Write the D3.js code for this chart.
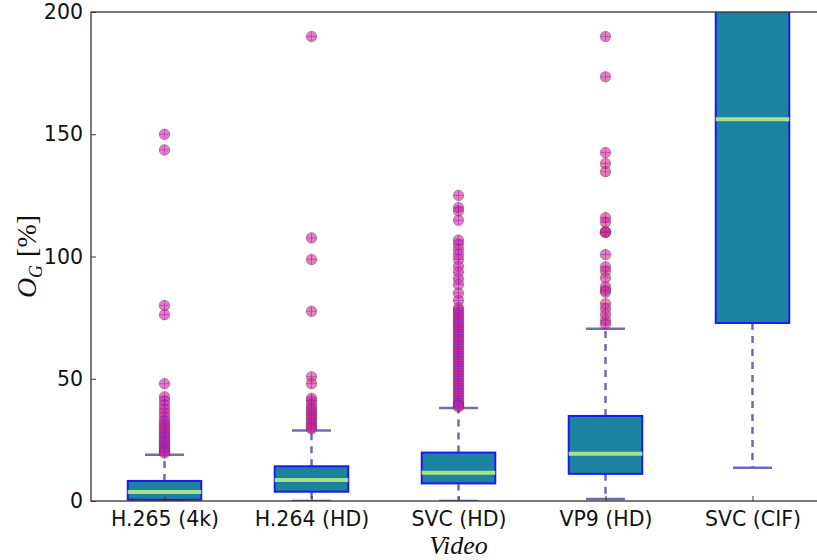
<!DOCTYPE html>
<html>
<head>
<meta charset="utf-8">
<script src="https://cdn.jsdelivr.net/npm/d3@7"></script>
<style>
  body { margin: 0; background: #fff; }
  svg { display: block; }
</style>
</head>
<body>
<div id="chart"></div>
<script>
// Data
const categories = ["H.265 (4k)", "H.264 (HD)", "SVC (HD)", "VP9 (HD)", "SVC (CIF)"];
const q1Values = [0.5, 3.8, 7.2, 11.1, 72.8];
const medianValues = [3.7, 8.6, 11.6, 19.3, 156.1];
const q3Values = [8.2, 14.2, 19.8, 34.8, 260];
const whiskerLow = [0, 0, 0, 0.8, 13.6];
const whiskerHigh = [18.9, 28.8, 38, 70.5, 420];
const yTicks = [0, 50, 100, 150, 200];

const outliersH265 = [150, 143.6, 80, 76.2, 48, 42.6, 41, 39.3, 37.5, 36, 34.5, 33, 32, 31, 30, 29, 28,
  27, 26.2, 25.5, 24.5, 23.8, 23, 22.2, 21.5, 20.8, 20.2, 19.6];
const outliersH264 = [190, 107.6, 98.8, 77.6, 50.8, 48, 42, 41, 39.5, 38, 37, 36, 35, 34, 33, 32, 31, 30, 29.5];
const outliersSvcHd = [125, 120, 118.6, 114.8, 106.7, 105, 102.9, 100.8, 98.8, 96, 93.6, 90.9, 88.5, 85, 82,
  79, 78, 77, 76, 75, 74, 73, 72, 71, 70, 69, 68, 67, 66, 65, 64, 63, 62, 61, 60, 59, 58, 57, 56, 55,
  54, 53, 52, 51, 50, 49, 48, 47, 46, 45, 44, 43, 42, 41, 40, 39.5, 39, 38.5];
const outliersVp9 = [190, 173.5, 142.5, 138, 134.7, 115.9, 114, 110.1, 110, 109.8, 100.8, 95.8, 94, 91.3,
  87.6, 86.2, 85.4, 80.7, 78.6, 76.2, 73.8, 72.4];
const outliersSvcCif = [];
const outlierLists = [outliersH265, outliersH264, outliersSvcHd, outliersVp9, outliersSvcCif];

const width = 817, height = 560;
const margin = { top: 12, left: 91, bottom: 59 };
const plotRight = 826; // right spine falls just outside the picture

const svg = d3.select('#chart').append('svg')
  .attr('width', width)
  .attr('height', height);

const x = d3.scaleLinear()
  .domain([0.5, categories.length + 0.5])
  .range([margin.left, plotRight]);

const y = d3.scaleLinear()
  .domain([0, 200])
  .range([height - margin.bottom, margin.top]);

const boxW = (x(1) - x(0)) * 0.5;
const capW = boxW * 0.53;

svg.append('clipPath').attr('id', 'plotClip')
  .append('rect')
  .attr('x', margin.left).attr('y', margin.top)
  .attr('width', plotRight - margin.left)
  .attr('height', y(0) - y(200));

const plot = svg.append('g').attr('clip-path', 'url(#plotClip)');

const rows = categories.map((c, i) => ({
  pos: i + 1,
  q1: q1Values[i], med: medianValues[i], q3: q3Values[i],
  lo: whiskerLow[i], hi: whiskerHigh[i], out: outlierLists[i]
}));

const whiskerColor = '#6c6cbc';

// whiskers (dashed)
plot.selectAll('.whiskerUp').data(rows).join('line')
  .attr('x1', d => x(d.pos)).attr('x2', d => x(d.pos))
  .attr('y1', d => y(d.q3)).attr('y2', d => y(d.hi))
  .attr('stroke', whiskerColor).attr('stroke-width', 2.5)
  .attr('stroke-dasharray', '7,6');
plot.selectAll('.whiskerDown').data(rows).join('line')
  .attr('x1', d => x(d.pos)).attr('x2', d => x(d.pos))
  .attr('y1', d => y(d.q1)).attr('y2', d => y(d.lo))
  .attr('stroke', whiskerColor).attr('stroke-width', 2.5)
  .attr('stroke-dasharray', '7,6');

// caps
['hi', 'lo'].forEach(k => {
  plot.append('g').selectAll('line').data(rows).join('line')
    .attr('x1', d => x(d.pos) - capW / 2).attr('x2', d => x(d.pos) + capW / 2)
    .attr('y1', d => y(d[k])).attr('y2', d => y(d[k]))
    .attr('stroke', whiskerColor).attr('stroke-width', 2.5);
});

// boxes
plot.selectAll('.box').data(rows).join('rect')
  .attr('x', d => x(d.pos) - boxW / 2)
  .attr('y', d => y(d.q3))
  .attr('width', boxW)
  .attr('height', d => y(d.q1) - y(d.q3))
  .attr('fill', '#1d829e')
  .attr('stroke', '#1a1af5')
  .attr('stroke-width', 2);

// medians
plot.selectAll('.median').data(rows).join('line')
  .attr('x1', d => x(d.pos) - boxW / 2).attr('x2', d => x(d.pos) + boxW / 2)
  .attr('y1', d => y(d.med)).attr('y2', d => y(d.med))
  .attr('stroke', '#a9e08e').attr('stroke-width', 4);

// outliers
const pts = rows.flatMap(d => d.out.map(v => ({ pos: d.pos, v })));
const fl = plot.append('g');
fl.selectAll('circle').data(pts).join('circle')
  .attr('cx', d => x(d.pos)).attr('cy', d => y(d.v))
  .attr('r', 5.3)
  .attr('fill', '#e0238e').attr('fill-opacity', 0.6)
  .attr('stroke', '#3a3a3a').attr('stroke-opacity', 0.45).attr('stroke-width', 0.8);
fl.selectAll('path').data(pts).join('path')
  .attr('d', d => {
    const cx = x(d.pos), cy = y(d.v);
    return `M${cx - 5},${cy}H${cx + 5}M${cx},${cy - 5}V${cy + 5}`;
  })
  .attr('stroke', '#8a20d0').attr('stroke-opacity', 0.5).attr('stroke-width', 1);

// axes
const yAxis = d3.axisLeft(y).tickValues(yTicks).tickSizeInner(-5).tickSizeOuter(0).tickPadding(8);
const yG = svg.append('g').attr('transform', `translate(${margin.left},0)`).call(yAxis);
yG.select('.domain').remove();
yG.selectAll('text').attr('font-family', 'DejaVu Sans').attr('font-size', 20.5).attr('fill', '#111');
yG.selectAll('line').attr('stroke', '#333');

const xAxis = d3.axisBottom(x).tickValues(categories.map((c, i) => i + 1))
  .tickFormat((d, i) => categories[i]).tickSizeInner(-5).tickSizeOuter(0).tickPadding(10);
const xG = svg.append('g').attr('transform', `translate(0,${y(0)})`).call(xAxis);
xG.select('.domain').remove();
xG.selectAll('text').attr('font-family', 'DejaVu Sans').attr('font-size', 20.5).attr('fill', '#111');
xG.selectAll('line').attr('stroke', '#333');

// frame
svg.append('rect')
  .attr('x', margin.left).attr('y', margin.top)
  .attr('width', plotRight - margin.left)
  .attr('height', y(0) - y(200))
  .attr('fill', 'none').attr('stroke', '#333').attr('stroke-width', 1.3);

// labels
svg.append('text')
  .attr('x', (margin.left + plotRight) / 2).attr('y', 554)
  .attr('text-anchor', 'middle')
  .attr('font-family', 'Liberation Serif').attr('font-style', 'italic').attr('font-size', 26)
  .attr('fill', '#111')
  .text('Video');

const yl = svg.append('text')
  .attr('transform', `translate(36,${(y(0) + y(200)) / 2}) rotate(-90)`)
  .attr('text-anchor', 'middle')
  .attr('font-family', 'Liberation Serif').attr('font-size', 28).attr('fill', '#111');
yl.append('tspan').attr('font-style', 'italic').text('O');
yl.append('tspan').attr('font-style', 'italic').attr('font-size', 18).attr('dy', 6).text('G');
yl.append('tspan').attr('dy', -6).attr('dx', 8).text('[%]');
</script>
</body>
</html>
